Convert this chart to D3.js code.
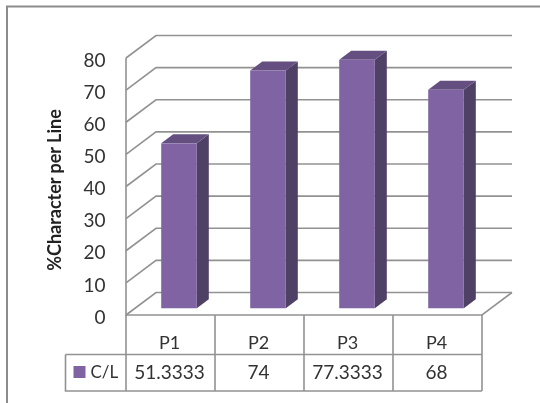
<!DOCTYPE html>
<html>
<head>
<meta charset="utf-8">
<script src="https://cdn.jsdelivr.net/npm/d3@7"></script>
<style>
  html, body { margin: 0; padding: 0; background: #fff; overflow: hidden; }
  text { font-family: Lato, "Open Sans", sans-serif; fill: #333; }
</style>
</head>
<body>
<script>
const categories = ["P1", "P2", "P3", "P4"];
const values = [51.3333, 74, 77.3333, 68];
const valueLabels = ["51.3333", "74", "77.3333", "68"];
const yTicks = [0, 10, 20, 30, 40, 50, 60, 70, 80];
const seriesName = "C/L";

const width = 540, height = 403;
const gridColor = "#929292";
const front = "#8064a2", side = "#503f66", top_ = "#654f80";

const svg = d3.select("body").append("svg")
  .attr("width", width)
  .attr("height", height);

const defs = svg.append("defs");
defs.append("filter").attr("id", "soft")
  .append("feGaussianBlur").attr("stdDeviation", 0.45);
defs.append("filter").attr("id", "softText")
  .append("feGaussianBlur").attr("stdDeviation", 0.25);

// outer chart frame, runs off the right and bottom of the window
svg.append("path")
  .attr("d", "M7,403V6.5H540")
  .attr("fill", "none")
  .attr("stroke", "#8c8c8c")
  .attr("stroke-width", 2);

const x = d3.scaleBand().domain(categories).range([126, 482]);
const y = d3.scaleLinear().domain([0, 80]).range([315, 58]);

// depth of the 3d box, and how far bars sit / extend into it
const depthX = 30, depthY = 22.5;
const barInset = 0.3, barDepth = 0.4;
const barWidth = x.bandwidth() * 0.4;

const chart = svg.append("g").attr("filter", "url(#soft)");

// walls and gridlines
chart.selectAll(".grid")
  .data(yTicks)
  .enter().append("path")
    .attr("class", "grid")
    .attr("fill", "none")
    .attr("stroke", gridColor)
    .attr("stroke-width", 1.6)
    .attr("d", d => d3.line()([
      [x.range()[0], y(d)],
      [x.range()[0] + depthX, y(d) - depthY],
      [x.range()[1] + depthX, y(d) - depthY]
    ]));

chart.append("path")
  .attr("fill", "none")
  .attr("stroke", gridColor)
  .attr("stroke-width", 1.6)
  .attr("d", d3.line()([
    [x.range()[0], y(80)],
    [x.range()[0], y(0)],
    [x.range()[1], y(0)],
    [x.range()[1] + depthX, y(0) - depthY]
  ]));

// bars
const barX = d => x(d) + (x.bandwidth() - barWidth) / 2 + depthX * barInset - 0.5;
const barBase = y(0) - depthY * barInset;
const barY = v => barBase - (y(0) - y(v));
const dx = depthX * barDepth, dy = depthY * barDepth;

const bars = chart.selectAll(".bar")
  .data(categories.map((c, i) => ({ c, v: values[i] })))
  .enter().append("g").attr("class", "bar");

bars.append("path")
  .attr("fill", side)
  .attr("d", d => {
    const l = barX(d.c) + barWidth;
    return d3.line()([[l, barY(d.v)], [l + dx, barY(d.v) - dy], [l + dx, barBase - dy], [l, barBase]]) + "Z";
  });
bars.append("path")
  .attr("fill", top_)
  .attr("d", d => {
    const l = barX(d.c);
    return d3.line()([[l, barY(d.v)], [l + dx, barY(d.v) - dy], [l + barWidth + dx, barY(d.v) - dy], [l + barWidth, barY(d.v)]]) + "Z";
  });
bars.append("rect")
  .attr("fill", front)
  .attr("x", d => barX(d.c))
  .attr("y", d => barY(d.v))
  .attr("width", barWidth)
  .attr("height", d => barBase - barY(d.v));

// data table
const row1 = 354.5, row2 = 391, tableLeft = 65.5;
const table = chart.append("g")
  .attr("fill", "none")
  .attr("stroke", gridColor)
  .attr("stroke-width", 1.6);
table.selectAll(".col")
  .data(categories)
  .enter().append("line")
    .attr("x1", d => x(d) + x.bandwidth())
    .attr("x2", d => x(d) + x.bandwidth())
    .attr("y1", y(0))
    .attr("y2", row2);
table.append("path").attr("d", `M${x.range()[0]},${y(0)}V${row2}`);
table.append("path").attr("d", `M${tableLeft},${row1}H${x.range()[1]}M${tableLeft},${row1}V${row2}H${x.range()[1]}`);

chart.append("rect")
  .attr("x", 73.5).attr("y", 366)
  .attr("width", 12).attr("height", 12)
  .attr("fill", front);

// text
const labels = svg.append("g").attr("filter", "url(#softText)");

labels.selectAll(".ytick")
  .data(yTicks)
  .enter().append("text")
    .attr("class", "ytick")
    .attr("x", 105.5)
    .attr("y", d => y(d) + 2)
    .attr("dy", "0.35em")
    .attr("text-anchor", "end")
    .style("font-size", "19px")
    .text(d => d);

labels.selectAll(".cat")
  .data(categories)
  .enter().append("text")
    .attr("class", "cat")
    .attr("x", d => x(d) + x.bandwidth() / 2 - 1)
    .attr("y", 343)
    .attr("dy", "0.35em")
    .attr("text-anchor", "middle")
    .style("font-size", "18px")
    .text(d => d);

labels.selectAll(".val")
  .data(categories)
  .enter().append("text")
    .attr("class", "val")
    .attr("x", d => x(d) + x.bandwidth() / 2 - 1)
    .attr("y", 372.5)
    .attr("dy", "0.35em")
    .attr("text-anchor", "middle")
    .style("font-size", "19px")
    .text((d, i) => valueLabels[i]);

labels.append("text")
  .attr("x", 90.5).attr("y", 372)
  .attr("dy", "0.35em")
  .style("font-size", "17px")
  .text(seriesName);

labels.append("text")
  .attr("transform", "translate(55,190) rotate(-90)")
  .attr("dy", "0.35em")
  .attr("text-anchor", "middle")
  .style("font-size", "18px")
  .style("font-weight", "bold")
  .style("fill", "#222")
  .text("%Character per Line");
</script>
</body>
</html>
